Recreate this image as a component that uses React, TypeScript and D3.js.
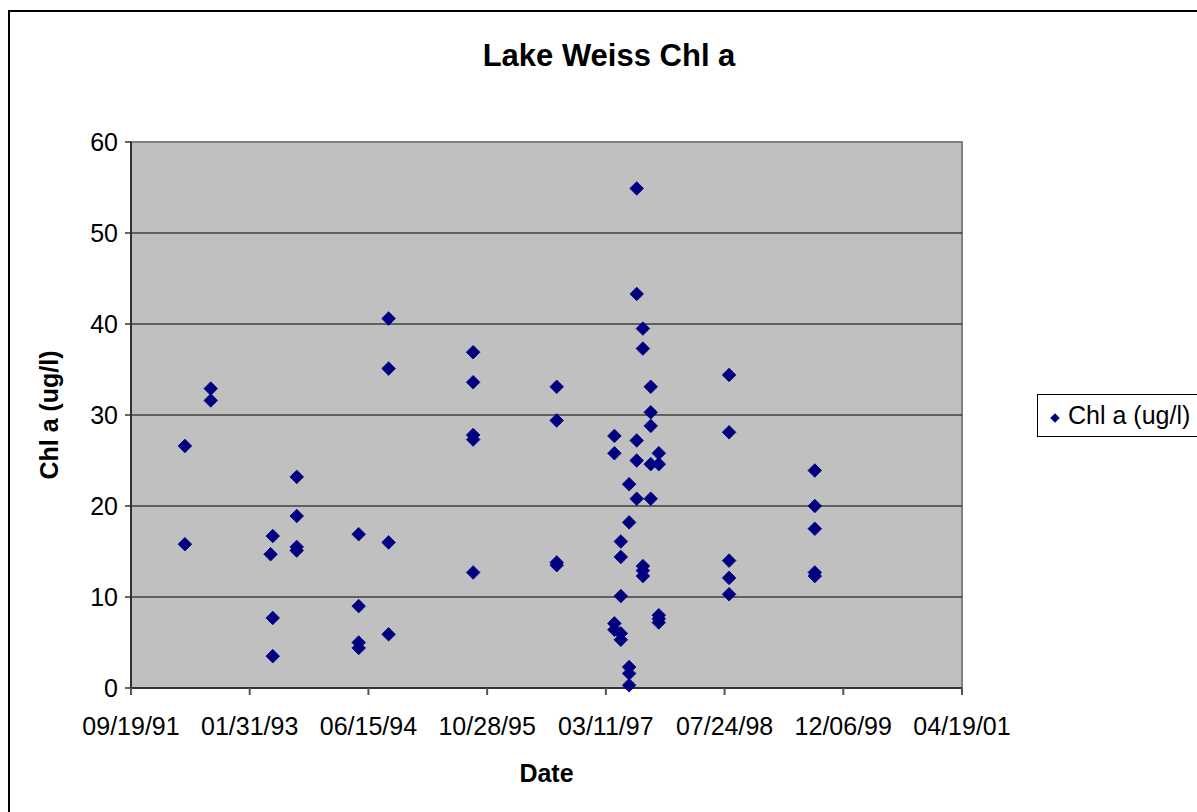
import * as d3 from "d3";
import { useEffect } from "react";

// sample dates (one per point) and Chl a values in ug/l
const dates = [
  "1992-05-03", "1992-05-03",
  "1992-08-20", "1992-08-20",
  "1993-05-08", "1993-04-29", "1993-05-08", "1993-05-08",
  "1993-08-17", "1993-08-17", "1993-08-17", "1993-08-17",
  "1994-05-05", "1994-05-05", "1994-05-05", "1994-05-05",
  "1994-09-08", "1994-09-08", "1994-09-08", "1994-09-08",
  "1995-08-30", "1995-08-30", "1995-08-30", "1995-08-30", "1995-08-30",
  "1996-08-16", "1996-08-16", "1996-08-16", "1996-08-16",
  "1997-04-16", "1997-04-16", "1997-04-16", "1997-04-16",
  "1997-05-13", "1997-05-13", "1997-05-13", "1997-05-13", "1997-05-13",
  "1997-06-17", "1997-06-17", "1997-06-17", "1997-06-17", "1997-06-17",
  "1997-07-19", "1997-07-19", "1997-07-19", "1997-07-19", "1997-07-19",
  "1997-08-14", "1997-08-14", "1997-08-14", "1997-08-14", "1997-08-14",
  "1997-09-16", "1997-09-16", "1997-09-16", "1997-09-16", "1997-09-16",
  "1997-10-20", "1997-10-20", "1997-10-20", "1997-10-20", "1997-10-20",
  "1998-08-12", "1998-08-12", "1998-08-12", "1998-08-12", "1998-08-12",
  "1999-08-08", "1999-08-08", "1999-08-08", "1999-08-08", "1999-08-08",
];
const chl = [
  26.6, 15.8,
  32.9, 31.6,
  16.7, 14.7, 7.7, 3.5,
  23.2, 18.9, 15.5, 15.1,
  16.9, 9.0, 5.0, 4.4,
  40.6, 35.1, 16.0, 5.9,
  36.9, 33.6, 27.8, 27.3, 12.7,
  33.1, 29.4, 13.8, 13.5,
  27.7, 25.8, 7.1, 6.4,
  16.1, 14.4, 10.1, 6.0, 5.3,
  22.4, 18.2, 2.3, 1.6, 0.3,
  54.9, 43.3, 27.2, 25.0, 20.8,
  39.5, 37.3, 13.4, 12.9, 12.3,
  33.1, 30.3, 28.8, 24.6, 20.8,
  25.8, 24.6, 8.0, 7.6, 7.2,
  34.4, 28.1, 14.0, 12.1, 10.3,
  23.9, 20.0, 17.5, 12.7, 12.3,
];
const yTicks = [0, 10, 20, 30, 40, 50, 60];
const xStart = "1991-09-19";
const xEnd = "2001-04-19";
const tickStepDays = 500;

const W = 1197;
const H = 812;
const L = 131, R = 962, T = 142, B = 688;
const FONT = "'Liberation Sans', Arial, sans-serif";
const NAVY = "#000080";

export default function App() {
  useEffect(() => {
    document.body.style.margin = "0";
    document.body.style.overflow = "hidden";
  }, []);

  const parse = d3.utcParse("%Y-%m-%d");
  const x0 = parse(xStart)!;
  const x1 = parse(xEnd)!;
  const x = d3.scaleUtc().domain([x0, x1]).range([L, R]);
  const y = d3.scaleLinear().domain([0, 60]).range([B, T]);
  const xTicks = d3.range(0, 8).map((i) => d3.utcDay.offset(x0, i * tickStepDays));
  const fmt = d3.utcFormat("%m/%d/%y");
  const pts = dates.map((d, i) => ({ date: parse(d)!, v: chl[i] }));
  // Excel-style marker: a square turned 45 degrees
  const marker = d3.symbol(d3.symbolSquare, 92)()!;
  const legendMarker = d3.symbol(d3.symbolSquare, 46)()!;

  return (
    <svg width={W} height={H} style={{ display: "block", fontFamily: FONT }}>
      <rect x={0} y={0} width={W} height={H} fill="#fff" />
      <rect x={9} y={11} width={W + 20} height={H + 20} fill="#fff" stroke="#000" strokeWidth={2} />
      <text x={609} y={66} textAnchor="middle" fontSize={31} fontWeight="bold">
        Lake Weiss Chl a
      </text>

      {/* plot area */}
      <rect x={L} y={T} width={R - L} height={B - T} fill="#c0c0c0" stroke="#808080" strokeWidth={2} />
      {yTicks.slice(1, -1).map((t) => (
        <line key={t} x1={L} x2={R} y1={y(t)} y2={y(t)} stroke="#000" strokeWidth={1.2} />
      ))}

      {/* y axis */}
      <line x1={L} x2={L} y1={T} y2={B} stroke="#333" strokeWidth={2} />
      {yTicks.map((t) => (
        <g key={t}>
          <line x1={L - 6} x2={L} y1={y(t)} y2={y(t)} stroke="#333" strokeWidth={1.5} />
          <text x={118} y={y(t) + 9} textAnchor="end" fontSize={25}>
            {t}
          </text>
        </g>
      ))}

      {/* x axis */}
      <line x1={L} x2={R} y1={B} y2={B} stroke="#333" strokeWidth={2} />
      {xTicks.map((t, i) => (
        <g key={i}>
          <line x1={x(t)} x2={x(t)} y1={B} y2={B + 7} stroke="#555" strokeWidth={2} />
          <text x={x(t)} y={735} textAnchor="middle" fontSize={25}>
            {fmt(t)}
          </text>
        </g>
      ))}

      <text x={(L + R) / 2} y={782} textAnchor="middle" fontSize={25} fontWeight="bold">
        Date
      </text>
      <text
        transform={`translate(58,${(T + B) / 2}) rotate(-90)`}
        textAnchor="middle"
        fontSize={25}
        fontWeight="bold"
      >
        Chl a (ug/l)
      </text>

      {/* points */}
      {pts.map((p, i) => (
        <path
          key={i}
          d={marker}
          transform={`translate(${x(p.date)},${y(p.v)}) rotate(45)`}
          fill={NAVY}
          stroke={NAVY}
          strokeWidth={0.8}
        />
      ))}

      {/* legend */}
      <rect x={1037.5} y={394.5} width={200} height={42} fill="#fff" stroke="#000" strokeWidth={1} />
      <path d={legendMarker} transform="translate(1055,418) rotate(45)" fill={NAVY} />
      <text x={1068} y={424} fontSize={25}>
        Chl a (ug/l)
      </text>
    </svg>
  );
}
